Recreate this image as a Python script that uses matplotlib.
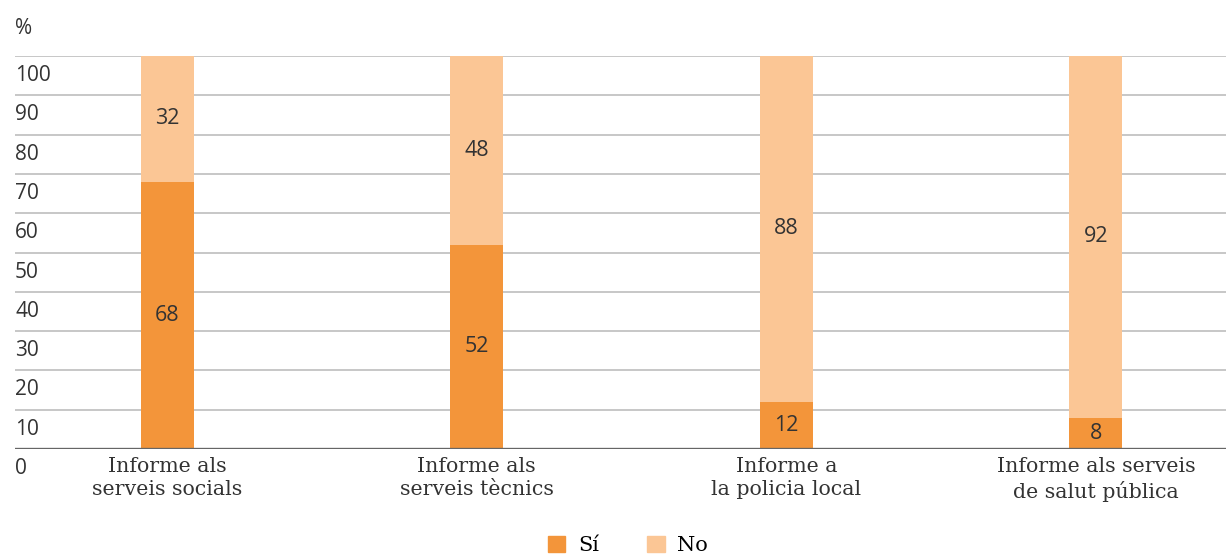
import matplotlib.pyplot as plt
import matplotlib.transforms as mtransforms
from matplotlib.patches import Patch

categories = ['Informe als\nserveis socials', 'Informe als\nserveis tècnics',
              'Informe a\nla policia local', 'Informe als serveis\nde salut pública']
si = [68, 52, 12, 8]
no = [32, 48, 88, 92]
yticks = [0, 10, 20, 30, 40, 50, 60, 70, 80, 90, 100]

c_si = '#F3953A'
c_no = '#FBC695'
sans = 'Open Sans'
serif = 'DejaVu Serif'
txt = '#333333'

fig = plt.figure(figsize=(12.26, 5.6), dpi=100)
ax = fig.add_axes([15 / 1226, 1 - 449 / 560, 1 - 15 / 1226, (449 - 56) / 560])

x = list(range(len(categories)))
w = 0.171
ax.bar(x, si, w, color=c_si, zorder=3)
ax.bar(x, no, w, bottom=si, color=c_no, zorder=3)

for i in x:
    ax.text(i, si[i] / 2, str(si[i]), ha='center', va='center',
            fontsize=15.5, family=sans, color=txt, zorder=4)
    ax.text(i, si[i] + no[i] / 2, str(no[i]), ha='center', va='center',
            fontsize=15.5, family=sans, color=txt, zorder=4)

ax.set_xlim(-0.491, 3.42)
ax.set_ylim(0, 100)

# gridlines drawn by hand, zero line darker
for t in yticks[1:]:
    ax.axhline(t, color='#bdbdbd', lw=1.2, zorder=1)
ax.axhline(0, color='#666666', lw=2.4, zorder=5)

# y labels sit just under each line
off = mtransforms.offset_copy(ax.get_yaxis_transform(), fig=fig, x=0, y=-9, units='dots')
for t in yticks:
    ax.text(0, t, str(t), transform=off, ha='left', va='top',
            fontsize=15, family=sans, color=txt)

fig.text(15 / 1226, 1 - 29 / 560, '%', ha='left', va='center',
         fontsize=15, family=sans, color=txt)

lab_off = mtransforms.offset_copy(ax.transData, fig=fig, x=0, y=-8, units='dots')
for i, lab in enumerate(categories):
    ax.text(i, 0, lab, transform=lab_off, ha='center', va='top',
            fontsize=14.8, family=serif, color=txt, linespacing=1.27)

for s in ax.spines.values():
    s.set_visible(False)
ax.set_xticks([])
ax.set_yticks([])

handles = [Patch(color=c_si, label='Sí'), Patch(color=c_no, label='No')]
fig.legend(handles=handles, loc='lower center', bbox_to_anchor=(0.512, -0.025),
           ncol=2, frameon=False, handlelength=0.85, handleheight=0.85,
           handletextpad=0.6, columnspacing=2.3,
           prop={'family': serif, 'size': 15})

fig.savefig('out.png', dpi=100)
